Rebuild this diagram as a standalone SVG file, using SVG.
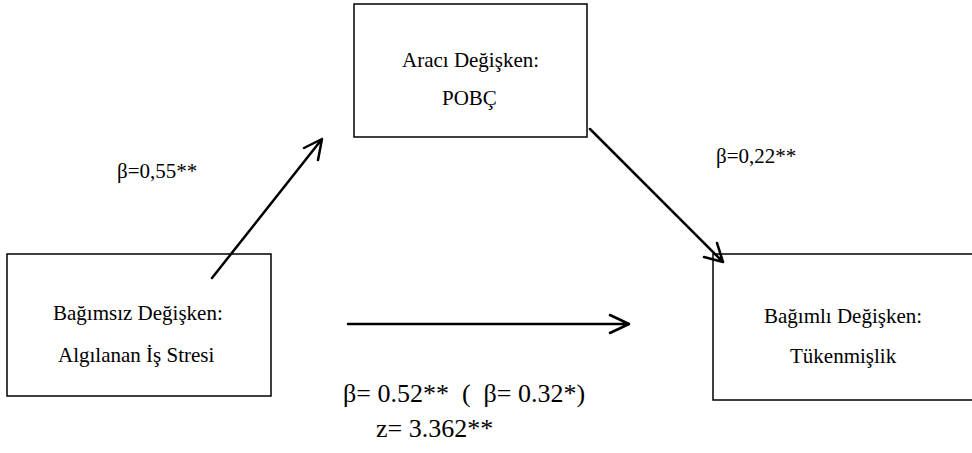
<svg xmlns="http://www.w3.org/2000/svg" width="972" height="453" viewBox="0 0 972 453">
<style>
.box{fill:#fff;stroke:#000;stroke-width:1.5}
.t{font-size:21px;fill:#000}
.b{font-size:26px;fill:#000}
.ln{stroke:#000;stroke-width:2.5;fill:none;stroke-linecap:round;stroke-linejoin:round}
</style>
<rect width="972" height="453" fill="#fff"/>
<g font-family="Liberation Serif, Times New Roman, DejaVu Serif, serif">
<g id="node-mediator">
<rect class="box" x="354" y="4" width="233" height="133"/>
<text class="t" x="402" y="67">Aracı Değişken:</text>
<text class="t" x="442" y="105">POBÇ</text>
</g>
<g id="node-independent">
<rect class="box" x="7" y="254" width="264" height="142"/>
<text class="t" x="53" y="320">Bağımsız Değişken:</text>
<text class="t" x="58" y="362">Algılanan İş Stresi</text>
</g>
<g id="node-dependent">
<rect class="box" x="713" y="254" width="280" height="146"/>
<text class="t" x="764" y="323">Bağımlı Değişken:</text>
<text class="t" x="790" y="363">Tükenmişlik</text>
</g>
<g id="connectors">
<path class="ln" d="M212,278 L322,139 M304,148 L322,139 L318,160"/>
<path class="ln" d="M590,129 L723,262 M704,257 L723,262 L717,243"/>
<path class="ln" d="M348,324 L629,324 M610,315 L629,324 L610,333"/>
</g>
<g id="labels">
<text class="t" x="117" y="178">β=0,55**</text>
<text class="t" x="716" y="163">β=0,22**</text>
<text class="b" x="343" y="402" xml:space="preserve">β= 0.52**  (  β= 0.32*)</text>
<text class="b" x="376" y="437">z= 3.362**</text>
</g>
</g>
</svg>
